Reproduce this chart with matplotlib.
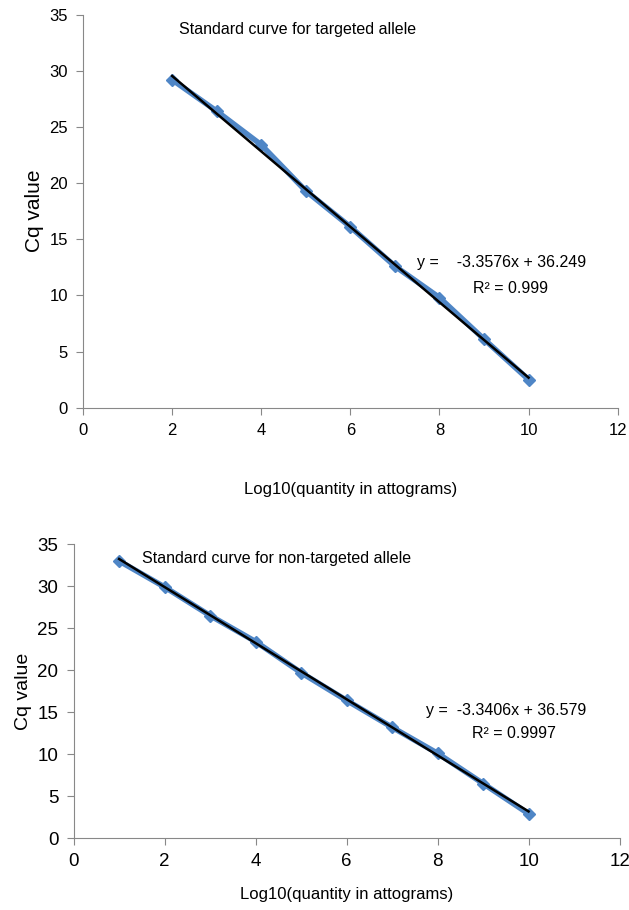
"""Standard curves for targeted / non-targeted allele (Cq vs log10 quantity)"""

import numpy as np
import matplotlib.pyplot as plt

plt.rcParams['font.family'] = ['Liberation Sans', 'DejaVu Sans']

# ---data---
x_top = [2, 3, 4, 5, 6, 7, 8, 9, 10]
cq_top = [29.2, 26.4, 23.4, 19.3, 16.1, 12.6, 9.8, 6.1, 2.5]
slope_top, icpt_top = -3.3576, 36.249

x_bot = [1, 2, 3, 4, 5, 6, 7, 8, 9, 10]
cq_bot = [33.0, 29.9, 26.5, 23.4, 19.7, 16.4, 13.2, 10.1, 6.5, 2.9]
slope_bot, icpt_bot = -3.3406, 36.579

x_ticks = [0, 2, 4, 6, 8, 10, 12]
y_ticks = [0, 5, 10, 15, 20, 25, 30, 35]

BLUE = '#4f86c6'
GRAY = '#888888'


def draw_curve(ax, x, y, slope, icpt, title, eq, r2, title_xy, eq_xy, r2_xy, tick_fs, ylab_fs, xlabpad):
    ax.plot(x, y, color=BLUE, lw=4, marker='D', ms=6, zorder=2)
    xs = np.array([x[0], x[-1]], dtype=float)
    ax.plot(xs, slope * xs + icpt, color='black', lw=1.8, zorder=3)

    ax.set_xlim(0, 12)
    ax.set_ylim(0, 35)
    ax.set_xticks(x_ticks)
    ax.set_yticks(y_ticks)
    for s in ['top', 'right']:
        ax.spines[s].set_visible(False)
    for s in ['left', 'bottom']:
        ax.spines[s].set_color(GRAY)
    ax.tick_params(direction='out', length=5, color=GRAY, labelsize=tick_fs, pad=6)

    ax.set_ylabel('Cq value', fontsize=ylab_fs)
    ax.set_xlabel('Log10(quantity in attograms)', fontsize=12, labelpad=xlabpad)

    ax.text(*title_xy, title, fontsize=11.5)
    ax.text(*eq_xy, eq, fontsize=11.5)
    ax.text(*r2_xy, r2, fontsize=11.5)


fig = plt.figure(figsize=(6.29, 9.1), dpi=100)
ax1 = fig.add_axes([0.132, 0.552, 0.850, 0.432])
ax2 = fig.add_axes([0.117, 0.079, 0.868, 0.323])

draw_curve(ax1, x_top, cq_top, slope_top, icpt_top,
           'Standard curve for targeted allele',
           'y =    -3.3576x + 36.249', 'R² = 0.999',
           (2.15, 33.3), (7.5, 12.5), (8.75, 10.2), 12, 15, 32)
draw_curve(ax2, x_bot, cq_bot, slope_bot, icpt_bot,
           'Standard curve for non-targeted allele',
           'y =  -3.3406x + 36.579', 'R² = 0.9997',
           (1.5, 32.8), (7.75, 14.6), (8.75, 11.9), 13.5, 14, 12)

fig.savefig('out.png', dpi=100)
